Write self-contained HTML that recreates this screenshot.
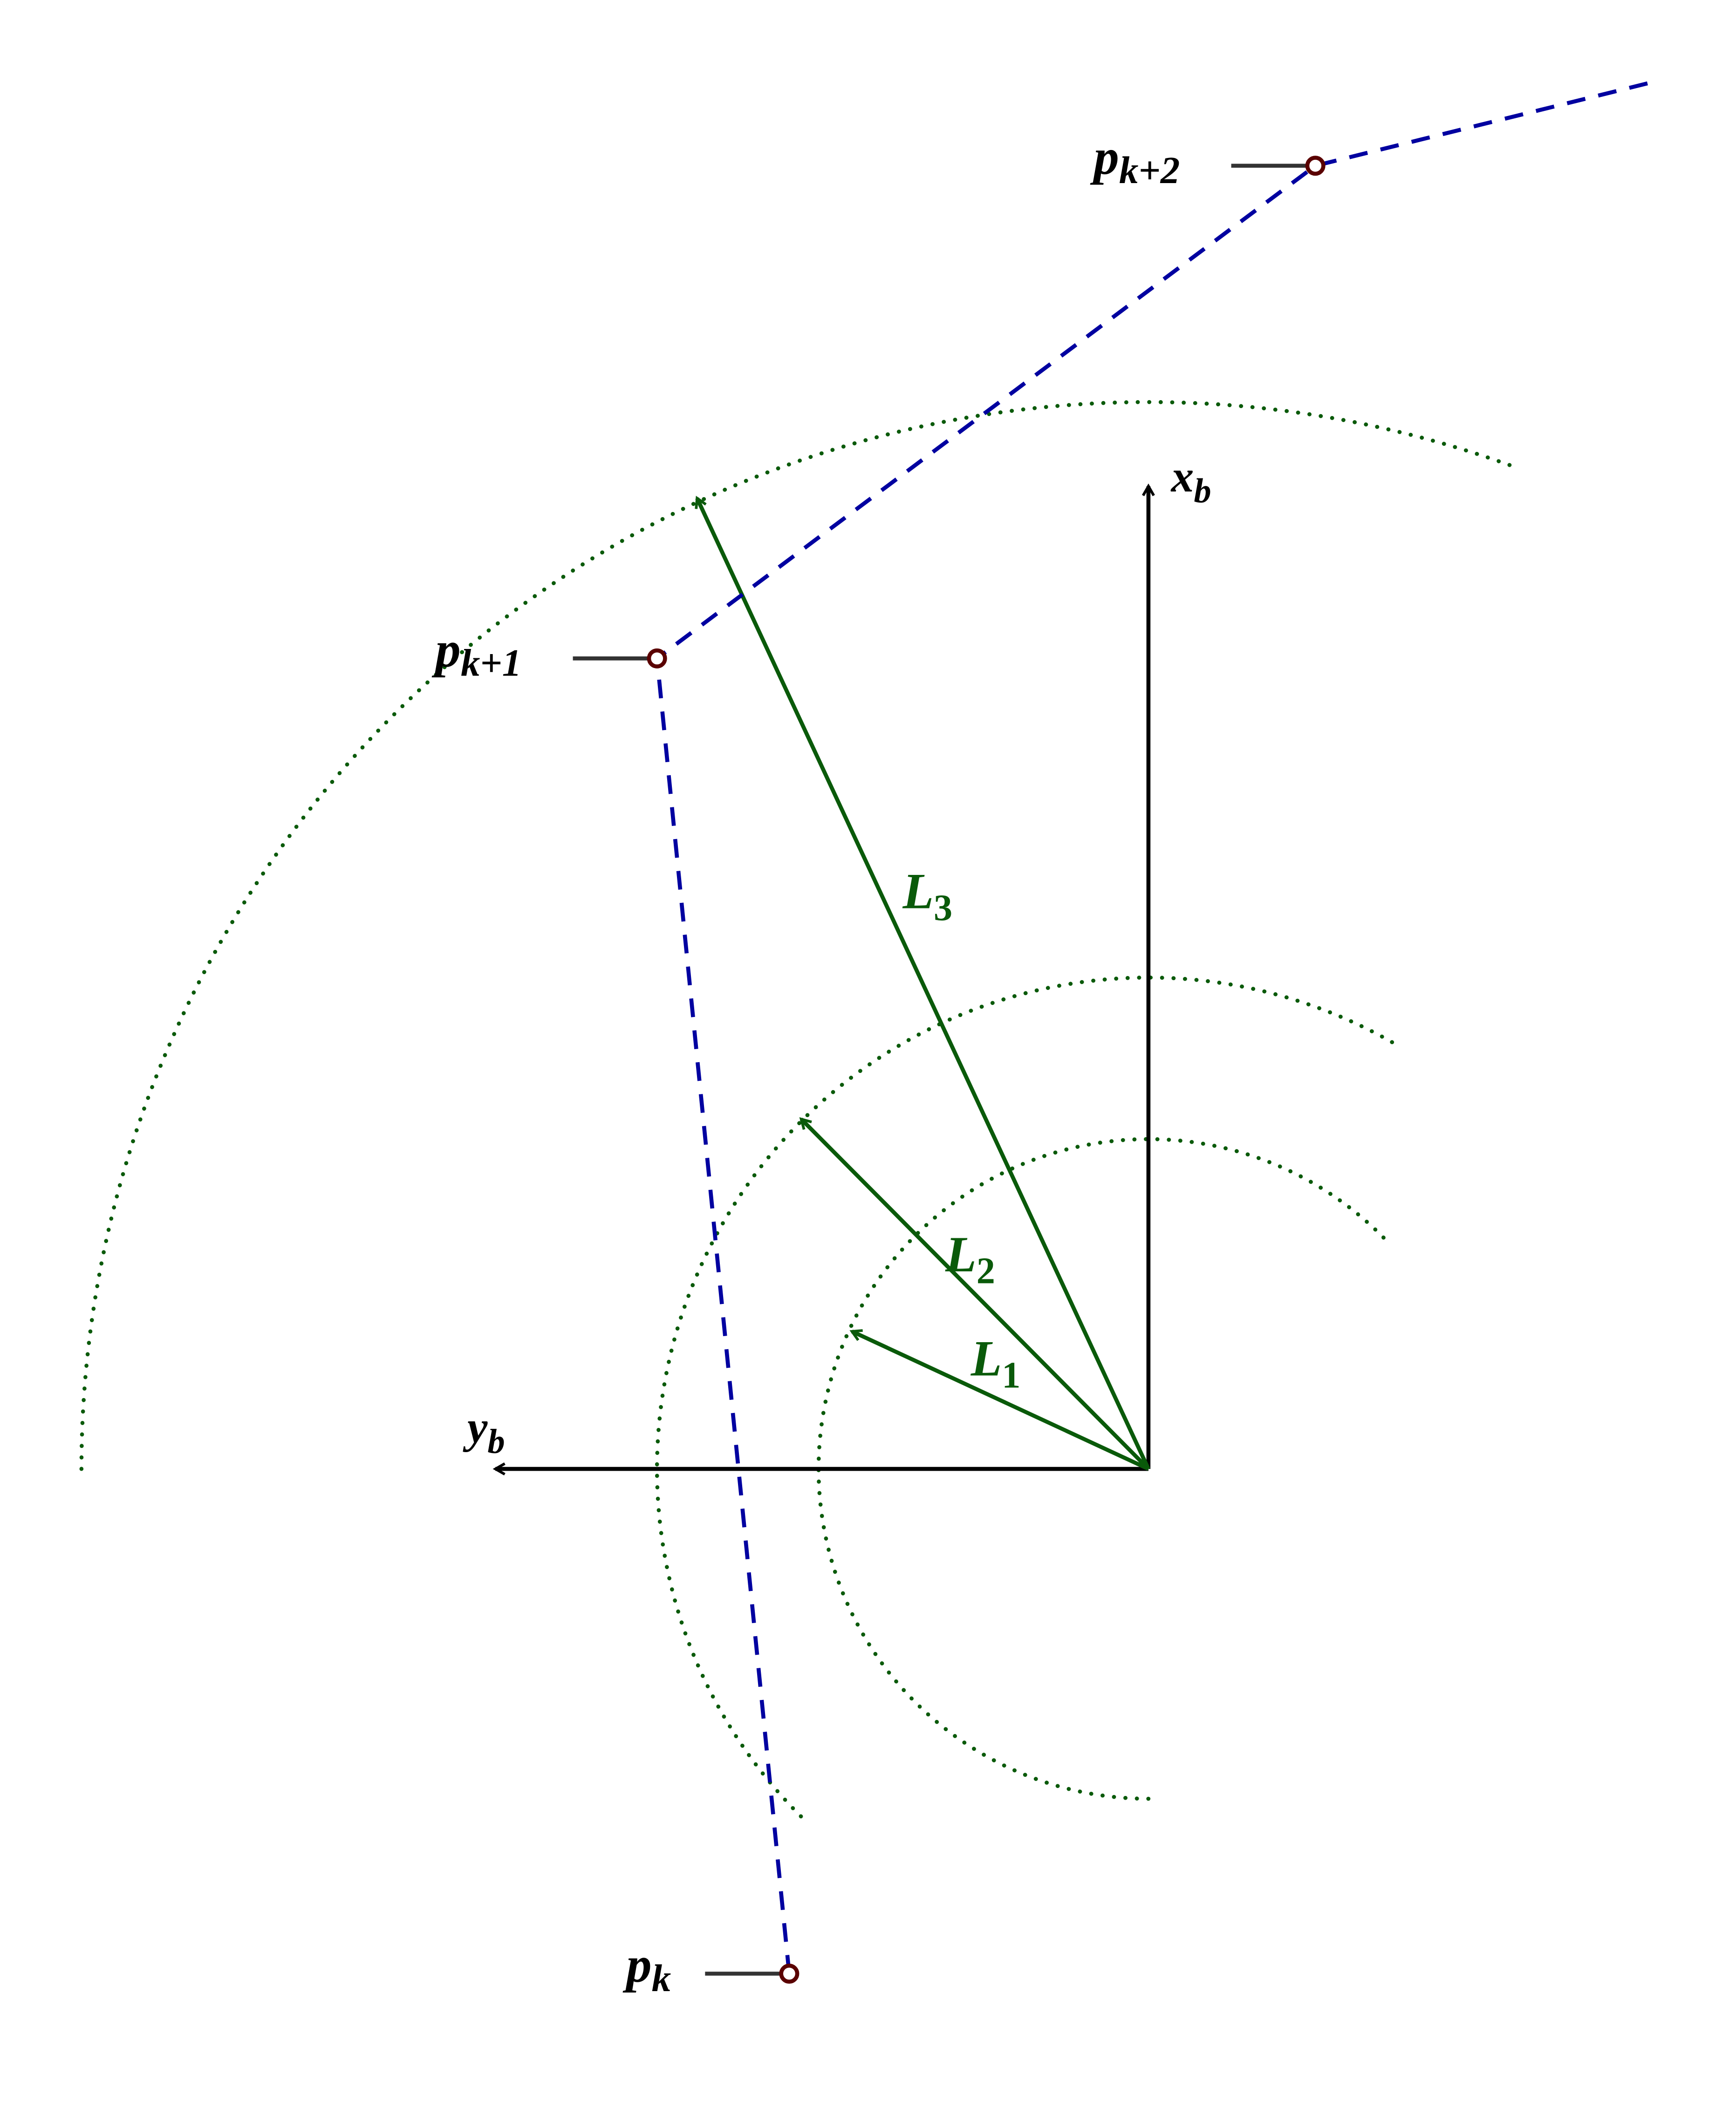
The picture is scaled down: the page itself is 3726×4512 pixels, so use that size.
<!DOCTYPE html>
<html><head><meta charset="utf-8"><style>
html,body{margin:0;padding:0;background:#fff;}
svg{display:block;}
text{font-family:"Liberation Serif",serif;font-weight:bold;font-style:italic;}
</style></head><body>
<svg id="fig" width="3726" height="4512" viewBox="0 0 1300 1574" xmlns="http://www.w3.org/2000/svg">
<defs>
<marker id="ahb" markerWidth="10" markerHeight="10" refX="8" refY="5" orient="auto" markerUnits="userSpaceOnUse"><path d="M1,1 L8,5 L1,9" fill="none" stroke="#000" stroke-width="2"/></marker>
<marker id="ahg" markerWidth="10" markerHeight="10" refX="8" refY="5" orient="auto" markerUnits="userSpaceOnUse"><path d="M1,1 L8,5 L1,9" fill="none" stroke="#0a5a0a" stroke-width="2"/></marker>
</defs>
<g id="arcs"></g>
<g id="axes">
<line x1="860" y1="1100" x2="860" y2="364" stroke="#000" stroke-width="3" marker-end="url(#ahb)"/>
<line x1="860" y1="1100" x2="371" y2="1100" stroke="#000" stroke-width="3" marker-end="url(#ahb)"/>
<text x="877" y="368" font-size="34">x<tspan font-size="26" dy="8">b</tspan></text>
<text x="350" y="1080" font-size="34">y<tspan font-size="26" dy="8">b</tspan></text>
</g>
<g id="links"></g>
<g id="path"></g>
</svg>
<script>
const NS="http://www.w3.org/2000/svg";
const origin=[860,1100];
const arcRadii=[247,368,799];
const arcStartDeg=[90,135,180];
const arcEndDeg=[316,300,290];
const linkLabels=["L1","L2","L3"];
const linkEnds=[[638,997],[600,838],[522,373]];
const linkLabelPos=[[727,1030],[708,952],[676,680]];
const pointNames=["k","k+1","k+2"];
const pointXs=[591,492,985];
const pointYs=[1478,493,124];
const tailPoint=[1235,62];
function el(t,a,p){const e=document.createElementNS(NS,t);for(const k in a)e.setAttribute(k,a[k]);p.appendChild(e);return e;}
const arcs=document.getElementById('arcs');
arcRadii.forEach((r,i)=>{
 const a0=arcStartDeg[i]*Math.PI/180,a1=arcEndDeg[i]*Math.PI/180;
 const x0=origin[0]+r*Math.cos(a0),y0=origin[1]+r*Math.sin(a0);
 const x1=origin[0]+r*Math.cos(a1),y1=origin[1]+r*Math.sin(a1);
 const large=(arcEndDeg[i]-arcStartDeg[i])>180?1:0;
 const p=el('path',{d:`M${x0},${y0} A${r},${r} 0 ${large} 1 ${x1},${y1}`,fill:'none',stroke:'#0a5a0a','stroke-width':3,'stroke-dasharray':'0.1 8.5','stroke-linecap':'round'},arcs);
 
 
});
const links=document.getElementById('links');
linkEnds.forEach((e,i)=>{
 const l=el('line',{x1:origin[0],y1:origin[1],x2:e[0],y2:e[1],stroke:'#0a5a0a','stroke-width':3,'marker-end':'url(#ahg)'},links);
 
 
 const t=el('text',{x:linkLabelPos[i][0],y:linkLabelPos[i][1],'font-size':38,fill:'#0a5a0a'},links);
 
 
 t.textContent='L';
 const s=el('tspan',{'font-size':28,dy:9,'font-style':'normal'},t);s.textContent=linkLabels[i].slice(1);
});
const pg=document.getElementById('path');
let d='M'+pointXs.map((x,i)=>x+','+pointYs[i]).join(' L')+' L'+tailPoint.join(',');
const pl=el('path',{d:d,fill:'none',stroke:'#0000a0','stroke-width':3,'stroke-dasharray':'14 10'},pg);


pointXs.forEach((x,i)=>{
 const y=pointYs[i];
 const ln=el('line',{x1:x-63,y1:y,x2:x-6,y2:y,stroke:'#333','stroke-width':3},pg);
 
 
 const c=el('circle',{cx:x,cy:y,r:6,fill:'#fff',stroke:'#5a0000','stroke-width':3},pg);
 
 
 const t=el('text',{x:x-(i==0?122:166),y:y+6,'font-size':38,fill:'#000'},pg);
 
 
 t.textContent='p';
 const s=el('tspan',{'font-size':29,dy:7},t);s.textContent=pointNames[i];
});
</script>
</body></html>
